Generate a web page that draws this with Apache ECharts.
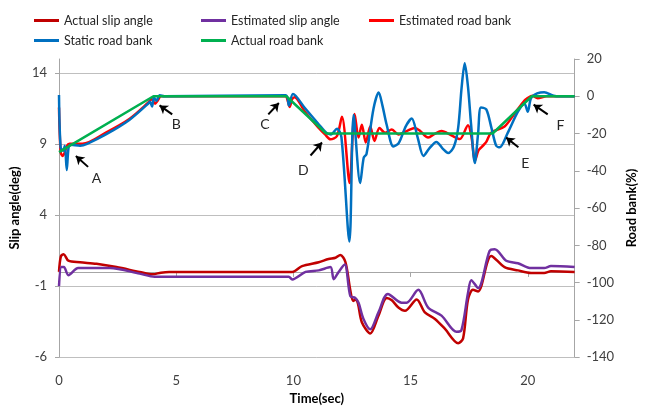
<!DOCTYPE html>
<html>
<head>
<meta charset="utf-8">
<script src="https://cdn.jsdelivr.net/npm/echarts@6/dist/echarts.min.js"></script>
<style>html,body{margin:0;padding:0;background:#fff}#c{width:646px;height:410px}</style>
</head>
<body>
<div id="c"></div>
<script>
// ---- data (time in sec) ----
const timeActualSlip = [0, 0.08, 0.2, 0.4, 0.9, 1.6, 2.45, 3.44, 4.0, 4.35, 4.7, 9.95, 10.37, 11.08, 11.5, 11.8, 12.0, 12.22, 12.43, 12.55, 12.65, 12.75, 12.92, 13.28, 13.63, 13.98, 14.2, 14.48, 14.76, 15.26, 15.61, 16.04, 16.46, 17.03, 17.24, 17.45, 17.66, 17.88, 18.44, 19.01, 19.58, 20.14, 20.7, 20.99, 22];
const actualSlip = [0.0, 1.1, 1.25, 0.79, 0.68, 0.57, 0.34, 0.0, -0.17, -0.05, 0.0, 0.0, 0.41, 0.68, 0.91, 1.0, 1.2, 0.7, -1.3, -2.05, -1.95, -2.2, -3.54, -4.34, -3.08, -1.83, -2.0, -2.51, -2.74, -1.94, -2.85, -3.31, -4.0, -5.02, -4.68, -1.94, -1.26, -1.37, 1.13, 0.34, 0.11, -0.07, -0.07, 0.04, 0.0];

const timeEstSlip = [0, 0.1, 0.21, 0.4, 0.82, 2.17, 3.44, 4.08, 9.8, 9.95, 10.52, 11.08, 11.58, 11.72, 11.93, 12.19, 12.43, 12.64, 12.78, 12.99, 13.28, 13.63, 14.03, 14.62, 14.83, 15.33, 15.75, 16.32, 16.96, 17.17, 17.45, 17.59, 17.88, 18.37, 18.59, 19.08, 19.58, 20.14, 20.7, 20.99, 22];
const estSlip = [-1.0, 0.34, 0.34, -0.23, 0.27, 0.27, -0.12, -0.34, -0.34, -0.53, 0.0, 0.11, 0.34, -0.51, 0.0, 0.52, -1.71, -1.83, -2.17, -3.31, -4.04, -2.85, -1.55, -2.17, -2.17, -1.26, -2.51, -3.08, -4.22, -4.1, -1.49, -0.58, -1.14, 1.48, 1.6, 0.79, 0.61, 0.27, 0.27, 0.41, 0.34];

const timeEstBank = [0, 0.07, 0.15, 0.25, 0.32, 0.45, 1.0, 2.0, 3.0, 3.8, 3.95, 4.1, 4.2, 4.35, 4.6, 9.67, 9.75, 9.84, 9.95, 10.05, 10.5, 11.08, 11.35, 11.58, 11.86, 12.07, 12.4, 12.53, 12.61, 12.78, 12.92, 13.09, 13.28, 13.46, 13.67, 13.91, 14.2, 14.48, 14.83, 15.19, 15.4, 15.75, 16.05, 16.32, 16.74, 17.1, 17.45, 17.6, 17.75, 17.9, 18.05, 18.23, 18.44, 19.01, 19.44, 19.86, 19.95, 20.2, 20.42, 20.8, 21.3, 22];
const estBank = [-6, -30, -32, -30, -27, -25.5, -25.5, -19.5, -12.2, -3.5, -1.5, -4, -2.5, 0, 0, 0, -2, -5.7, -1.5, -0.5, -8.5, -17, -20.5, -23.1, -21.3, -11, -46.6, -20.5, -9.5, -22.2, -15.3, -24.8, -16.2, -24, -17, -19.6, -17.9, -20.5, -18.7, -17, -18.5, -22.2, -20, -18.7, -21, -23, -15.5, -22, -34.5, -29, -27, -24.5, -19.5, -16.2, -9.2, -2.3, -1.4, 0.3, -1, 0, 0, 0];

const timeStaticBank = [0, 0.07, 0.18, 0.25, 0.33, 0.41, 0.5, 0.9, 1.2, 2.0, 3.0, 3.8, 3.88, 3.97, 4.05, 4.15, 4.3, 4.5, 9.67, 9.81, 9.98, 10.5, 11.08, 11.4, 11.6, 11.86, 12.05, 12.39, 12.57, 12.85, 13.0, 13.12, 13.42, 13.64, 13.8, 13.98, 14.27, 14.5, 14.8, 15.05, 15.3, 15.55, 15.8, 16.1, 16.4, 16.6, 16.85, 17.03, 17.18, 17.31, 17.45, 17.58, 17.74, 17.88, 18.0, 18.23, 18.45, 18.65, 18.8, 19.15, 19.58, 19.86, 20.0, 20.14, 20.4, 20.7, 21.1, 21.4, 22];
const staticBank = [0.7, -27.4, -29.2, -26.6, -39.6, -27.4, -26, -26.5, -25.5, -20.5, -12.7, -4, -3, -5.5, -0.5, -2.5, 0.5, 0, 0.5, -4.9, 1.2, -6.5, -15, -19.5, -20.5, -17.4, -22, -78, -10, -46.6, -33, -31, -6.6, 2, -5, -15.3, -27, -25, -16, -12, -22, -32, -28, -24.5, -28.5, -30.5, -27, -17, 5, 17.7, 5, -15, -35.8, -20, -6, -7, -17, -26.5, -27.4, -19.5, -8.3, -4, -8.3, -1, 1.5, 2.2, 0.3, 0, 0];

const timeActualBank = [0, 4.03, 9.7, 11.4, 18.5, 20.17, 22];
const actualBank = [-30, 0, 0, -20, -20, 0, 0];

// annotations (time, road bank %)
const markerLetters = ['A', 'B', 'C', 'D', 'E', 'F'];
const arrowTail = [[1.24, -37.9], [4.83, -9.7], [8.93, -9.7], [10.73, -31.8], [19.6, -27.4], [20.85, -9.7]];
const arrowHead = [[0.72, -32.1], [4.29, -4.9], [9.38, -3.6], [11.22, -24.8], [19.08, -22.2], [20.25, -4.5]];
const letterPos = [[1.6, -44], [5.0, -15], [8.79, -15.3], [10.42, -39.6], [19.89, -36.1], [21.39, -15.6]];

const FONT = 'Lato, "Open Sans", sans-serif';
const zip = (a, b) => a.map((t, i) => [t, b[i]]);

const chart = echarts.init(document.getElementById('c'), null, {renderer: 'canvas'});
const axisGray = '#A6A6A6';
const legendBase = {
  orient: 'vertical', top: 8, itemWidth: 25, itemHeight: 3, itemGap: 5, icon: 'rect',
  textStyle: {fontFamily: FONT, fontSize: 12.5, color: '#262626', lineHeight: 15}
};
const lineSeries = (name, t, v, color, yi, smooth) => ({
  name, type: 'line', yAxisIndex: yi, data: zip(t, v), symbol: 'none', smooth: smooth,
  lineStyle: {color, width: 2.5}, itemStyle: {color}, animation: false
});

const bankGreen = lineSeries('Actual road bank', timeActualBank, actualBank, '#00B050', 1, false);
bankGreen.markLine = {
  silent: true, animation: false, symbol: ['none', 'arrow'], symbolSize: 8,
  lineStyle: {color: '#000', width: 2, type: 'solid'}, label: {show: false},
  data: arrowTail.map((p, i) => [{coord: p}, {coord: arrowHead[i]}])
};
bankGreen.markPoint = {
  silent: true, animation: false, symbol: 'circle', symbolSize: 1,
  itemStyle: {color: 'rgba(0,0,0,0)'},
  label: {show: true, formatter: '{b}', fontFamily: FONT, fontSize: 14, color: '#262626'},
  data: letterPos.map((p, i) => ({name: markerLetters[i], coord: p}))
};

chart.setOption({
  backgroundColor: '#fff',
  animation: false,
  legend: [
    Object.assign({}, legendBase, {left: 29, data: ['Actual slip angle', 'Static road bank']}),
    Object.assign({}, legendBase, {left: 196, data: ['Estimated slip angle', 'Actual road bank']}),
    Object.assign({}, legendBase, {left: 364, data: ['Estimated road bank']})
  ],
  grid: {left: 59, right: 69, top: 59, bottom: 44, containLabel: false},
  xAxis: {
    type: 'value', min: 0, max: 22, interval: 5,
    name: 'Time(sec)', nameLocation: 'middle', nameGap: 31,
    nameTextStyle: {fontFamily: FONT, fontSize: 13, fontWeight: 'bold', color: '#000'},
    axisLine: {show: true, lineStyle: {color: axisGray}},
    axisTick: {show: true, length: 5, lineStyle: {color: axisGray}},
    axisLabel: {fontFamily: FONT, fontSize: 13, color: '#404040', margin: 17, showMaxLabel: false},
    splitLine: {show: false}
  },
  yAxis: [
    {
      type: 'value', position: 'left', min: -6, max: 15, interval: 5,
      name: 'Slip angle(deg)', nameLocation: 'middle', nameGap: 30, nameRotate: 90,
      nameTextStyle: {fontFamily: FONT, fontSize: 13, fontWeight: 'bold', color: '#000'},
      axisLine: {show: true, lineStyle: {color: axisGray}},
      axisTick: {show: true, length: 4, lineStyle: {color: axisGray}},
      axisLabel: {fontFamily: FONT, fontSize: 13, color: '#404040', margin: 12, showMaxLabel: false},
      splitLine: {show: true, showMaxLine: false, lineStyle: {color: '#BFBFBF', width: 1}}
    },
    {
      type: 'value', position: 'right', min: -140, max: 20, interval: 20,
      name: 'Road bank(%)', nameLocation: 'middle', nameGap: 43, nameRotate: 90,
      nameTextStyle: {fontFamily: FONT, fontSize: 13, fontWeight: 'bold', color: '#000'},
      axisLine: {show: true, lineStyle: {color: axisGray}},
      axisTick: {show: true, length: 5, lineStyle: {color: axisGray}},
      axisLabel: {fontFamily: FONT, fontSize: 13, color: '#404040', margin: 12},
      splitLine: {show: false}
    }
  ],
  series: [
    lineSeries('Actual slip angle', timeActualSlip, actualSlip, '#C00000', 0, 0.3),
    lineSeries('Estimated slip angle', timeEstSlip, estSlip, '#7030A0', 0, 0.3),
    lineSeries('Estimated road bank', timeEstBank, estBank, '#FF0000', 1, 0.3),
    lineSeries('Static road bank', timeStaticBank, staticBank, '#0070C0', 1, 0.3),
    bankGreen
  ]
});
</script>
</body>
</html>
